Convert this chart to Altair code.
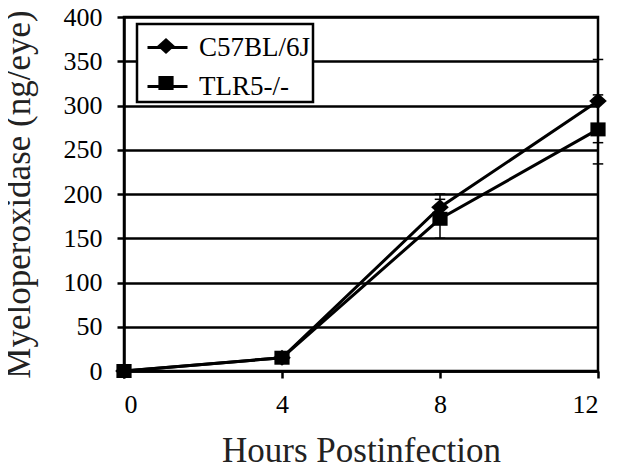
import altair as alt
import pandas as pd

# ---- data ----
hours = [0, 4, 8, 12]
series_names = ["C57BL/6J", "TLR5-/-"]
c57_mpo = [0, 15, 185, 305]
tlr5_mpo = [0, 15, 172, 273]
c57_err = [0, 0, 15, 47]
tlr5_err = [0, 0, 22, 39]
y_ticks = [0, 50, 100, 150, 200, 250, 300, 350, 400]

rows = []
for name, vals, errs in [(series_names[0], c57_mpo, c57_err),
                         (series_names[1], tlr5_mpo, tlr5_err)]:
    for h, v, e in zip(hours, vals, errs):
        rows.append({"hours": h, "mpo": v, "lo": v - e, "hi": v + e, "series": name})
df = pd.DataFrame(rows)

FONT = "Liberation Serif"

x_enc = alt.X("hours:Q",
              scale=alt.Scale(domain=[0, 12], nice=False, zero=False),
              axis=alt.Axis(values=hours, title="Hours Postinfection", grid=False,
                            labelPadding=13, titlePadding=16))
y_enc = alt.Y("mpo:Q",
              scale=alt.Scale(domain=[0, 400], nice=False),
              axis=alt.Axis(values=y_ticks, title="Myeloperoxidase (ng/eye)", grid=True,
                            labelPadding=15, titlePadding=27))

# shared legend geometry so the two legends overlap exactly
LEG = dict(title=None, orient="none", legendX=13, legendY=7, padding=2, rowPadding=4,
           symbolSize=1600, symbolOffset=7, labelOffset=10,
           labelFont=FONT, labelFontSize=27)

diamond_path = "M-0.44,0L0,-0.40L0.44,0L0,0.40Z"
square_path = "M-0.38,-0.35L0.38,-0.35L0.38,0.35L-0.38,0.35Z"

base = alt.Chart(df)

lines = base.mark_line(strokeWidth=3).encode(
    x=x_enc, y=y_enc,
    color=alt.Color("series:N",
                    scale=alt.Scale(domain=series_names, range=["black", "black"]),
                    legend=alt.Legend(**LEG, labelColor="black", symbolStrokeWidth=3,
                                      strokeColor="black", fillColor="white", zindex=0)))

err = base.transform_filter("datum.hi > datum.lo").mark_rule(
    color="black", strokeWidth=1.5).encode(x="hours:Q", y="lo:Q", y2="hi:Q")
cap_hi = base.transform_filter("datum.hi > datum.lo").mark_point(
    shape="stroke", size=110, color="black", strokeWidth=1.5, opacity=1).encode(
    x="hours:Q", y="hi:Q")
cap_lo = base.transform_filter("datum.hi > datum.lo").mark_point(
    shape="stroke", size=110, color="black", strokeWidth=1.5, opacity=1).encode(
    x="hours:Q", y="lo:Q")

points = base.mark_point(filled=True, opacity=1, color="black", size=1600).encode(
    x=x_enc, y=y_enc,
    shape=alt.Shape("series:N",
                    scale=alt.Scale(range=[diamond_path, square_path]),
                    legend=alt.Legend(**LEG, labelExpr="''", symbolFillColor="black",
                                      symbolStrokeWidth=0, zindex=1)))

chart = alt.layer(lines, err, cap_hi, cap_lo, points).properties(
    width=474, height=354,
    autosize=alt.AutoSizeParams(type="none"),
    padding={"left": 116, "top": 9, "right": 13, "bottom": 91},
    background="white",
).configure(
    font=FONT
).configure_view(
    stroke="black", strokeWidth=2.5
).configure_axis(
    domainColor="black", domainWidth=2.5,
    tickColor="black", tickWidth=2.5, tickSize=7,
    labelFont=FONT, labelFontSize=26, labelColor="black",
    titleFont=FONT, titleFontSize=35, titleFontWeight="normal", titleColor="#222222",
    gridColor="black", gridWidth=2.5, gridOpacity=1,
).configure_legend(
    strokeWidth=2.5
)

chart.save("out.html", embed_options={"renderer": "svg", "actions": False})
